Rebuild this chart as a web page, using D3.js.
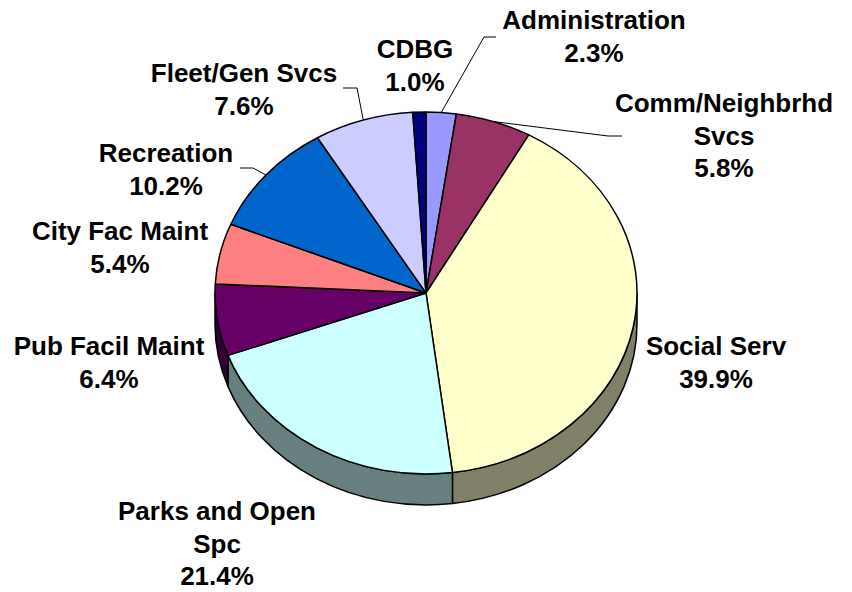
<!DOCTYPE html>
<html>
<head>
<meta charset="utf-8">
<script src="https://cdn.jsdelivr.net/npm/d3@7"></script>
<style>
  body { margin: 0; background: #fff; }
  text { font-family: "Liberation Sans", Arial, sans-serif; font-weight: bold; }
</style>
</head>
<body>
<div id="chart"></div>
<script>
// slices, clockwise from 12 o'clock
var categories = ["Administration", "Comm/Neighbrhd Svcs", "Social Serv", "Parks and Open Spc",
  "Pub Facil Maint", "City Fac Maint", "Recreation", "Fleet/Gen Svcs", "CDBG"];
var shares = [2.3, 5.8, 39.9, 21.4, 6.4, 5.4, 10.2, 7.6, 1.0];
var sliceColors = ["#9999FF", "#993366", "#FFFFCC", "#CCFFFF", "#660066", "#FF8080", "#0066CC", "#CCCCFF", "#000080"];
// label lines as shown in the chart
var labelLines = [
  ["Administration"], ["Comm/Neighbrhd", "Svcs"], ["Social Serv"], ["Parks and Open", "Spc"],
  ["Pub Facil Maint"], ["City Fac Maint"], ["Recreation"], ["Fleet/Gen Svcs"], ["CDBG"]
];

// layout (label anchors: centre x, first baseline y; leader elbows)
var labelAt = [[594, 29], [724, 112], [716, 355], [217, 520], [109, 355], [120, 240], [166, 162], [244, 82], [415, 58]];
var leaders = { 0: [[484, 37], [496, 37]], 1: [[608, 136], [622, 136]], 6: [[253, 168], [240, 168]], 7: [[357, 88], [343, 88]] };

var W = 852, H = 592;
var cx = 426, cy = 293, rx = 211, ry = 181, depth = 31;
var lineH = 32.5;

var svg = d3.select("#chart").append("svg")
  .attr("width", W)
  .attr("height", H);

var pie = d3.pie().sort(null).value(function (d) { return d; })
  .startAngle(0).endAngle(2 * Math.PI);
var arcs = pie(shares);

function pt(a, dy) {
  return [cx + rx * Math.sin(a), cy - ry * Math.cos(a) + (dy || 0)];
}

function topPath(d) {
  var p0 = pt(d.startAngle), p1 = pt(d.endAngle);
  var large = d.endAngle - d.startAngle > Math.PI ? 1 : 0;
  return "M" + cx + "," + cy + "L" + p0 + "A" + rx + "," + ry + " 0 " + large + " 1 " + p1 + "Z";
}

function sidePath(d) {
  var s = Math.max(d.startAngle, Math.PI / 2), e = Math.min(d.endAngle, 3 * Math.PI / 2);
  if (e <= s) return null;
  var a = pt(s), b = pt(e), c = pt(e, depth), f = pt(s, depth);
  return "M" + a + "A" + rx + "," + ry + " 0 0 1 " + b + "L" + c +
    "A" + rx + "," + ry + " 0 0 0 " + f + "Z";
}

// side wall
svg.append("g").selectAll("path")
  .data(arcs.filter(function (d) { return sidePath(d); }))
  .enter().append("path")
  .attr("d", sidePath)
  .attr("fill", function (d) {
    var c = d3.rgb(sliceColors[d.index]);
    return d3.rgb(c.r * 0.5, c.g * 0.5, c.b * 0.5);
  })
  .attr("stroke", "#000")
  .attr("stroke-width", 1.5)
  .attr("stroke-linejoin", "round");

// top faces
svg.append("g").selectAll("path")
  .data(arcs)
  .enter().append("path")
  .attr("d", topPath)
  .attr("fill", function (d) { return sliceColors[d.index]; })
  .attr("stroke", "#000")
  .attr("stroke-width", 1.5)
  .attr("stroke-linejoin", "round");

// leader lines
svg.append("g").selectAll("path")
  .data(arcs.filter(function (d) { return leaders[d.index]; }))
  .enter().append("path")
  .attr("d", function (d) {
    var start = pt((d.startAngle + d.endAngle) / 2);
    return d3.line()([start].concat(leaders[d.index]));
  })
  .attr("fill", "none")
  .attr("stroke", "#000")
  .attr("stroke-width", 1);

// labels
var lab = svg.append("g").selectAll("text")
  .data(arcs)
  .enter().append("text")
  .attr("text-anchor", "middle")
  .attr("font-size", "26px")
  .attr("fill", "#000");

lab.each(function (d) {
  var t = d3.select(this);
  var lines = labelLines[d.index].concat([d3.format(".1f")(shares[d.index]) + "%"]);
  lines.forEach(function (s, i) {
    t.append("tspan")
      .attr("x", labelAt[d.index][0])
      .attr("y", labelAt[d.index][1] + i * lineH)
      .text(s);
  });
});
</script>
</body>
</html>
